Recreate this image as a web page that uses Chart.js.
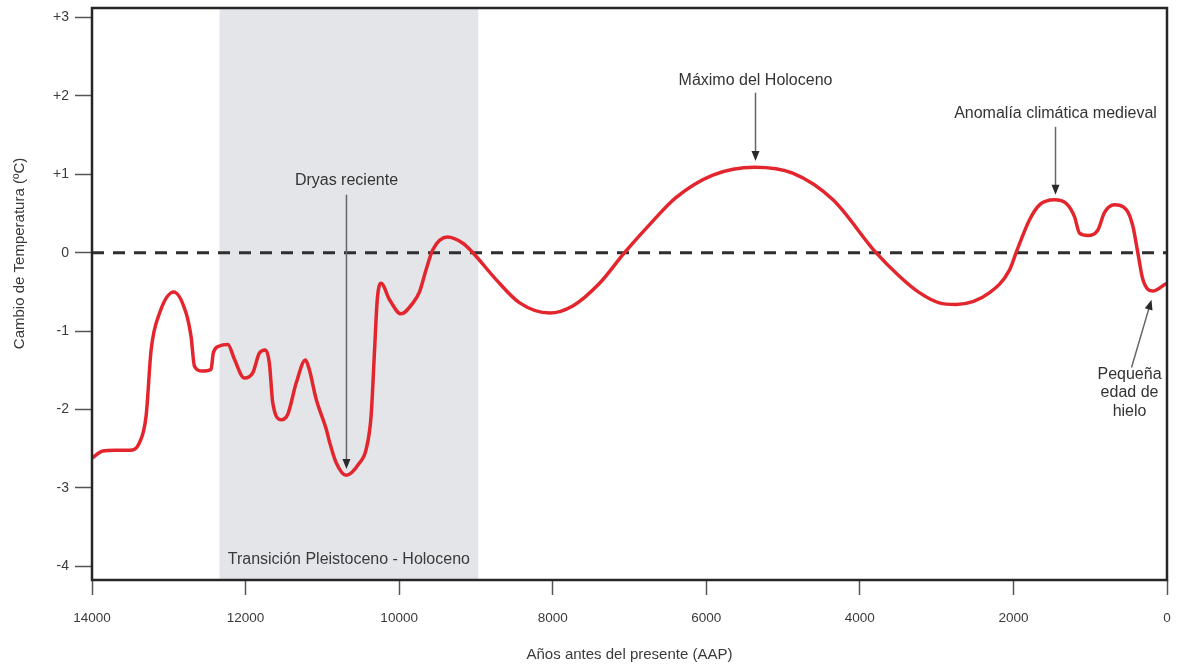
<!DOCTYPE html>
<html>
<head>
<meta charset="utf-8">
<script src="https://cdn.jsdelivr.net/npm/chart.js@4.4.1/dist/chart.umd.min.js"></script>
<style>
  html, body { margin: 0; padding: 0; background: #ffffff; }
  #wrap { width: 1178px; height: 664px; }
</style>
</head>
<body>
<div id="wrap"><canvas id="c" width="1178" height="664"></canvas></div>
<script>
// ---- Data ----
const years = [14000, 13860, 13700, 13510, 13380, 13295, 13230, 13120, 12935, 12775,
  12710, 12665, 12560, 12450, 12420, 12340, 12230, 12145, 12015, 11905,
  11820, 11740, 11690, 11645, 11535, 11450, 11340, 11220, 11170, 11080,
  10950, 10905, 10820, 10690, 10515, 10430, 10365, 10320, 10285, 10235,
  10125, 9975, 9820, 9735, 9650, 9560, 9370, 9170, 9040, 8740,
  8430, 8040, 7740, 7390, 7065, 6700, 6400, 5915, 5370, 4875,
  4350, 3790, 3485, 3225, 2965, 2745, 2310, 2050, 1965, 1790,
  1660, 1465, 1315, 1205, 1140, 1030, 900, 815, 685, 530,
  445, 380, 315, 185, 35, 0];
const temps = [-2.62, -2.53, -2.52, -2.52, -2.42, -2.08, -1.24, -0.77, -0.50, -0.77,
  -1.07, -1.45, -1.51, -1.49, -1.28, -1.19, -1.17, -1.36, -1.60, -1.53,
  -1.28, -1.24, -1.41, -1.92, -2.13, -2.06, -1.66, -1.37, -1.49, -1.87,
  -2.25, -2.42, -2.68, -2.84, -2.68, -2.51, -2.08, -1.24, -0.60, -0.39,
  -0.60, -0.78, -0.64, -0.50, -0.22, 0.04, 0.20, 0.12, 0.00, -0.34,
  -0.64, -0.77, -0.68, -0.39, 0.00, 0.40, 0.70, 0.99, 1.09, 1.015,
  0.675, 0.00, -0.30, -0.51, -0.64, -0.66, -0.51, -0.22, 0.00, 0.42,
  0.61, 0.675, 0.63, 0.46, 0.25, 0.22, 0.29, 0.51, 0.61, 0.55,
  0.34, 0.00, -0.34, -0.49, -0.41, -0.39];

const xTicks = [14000, 12000, 10000, 8000, 6000, 4000, 2000, 0];
const yTicks = [3, 2, 1, 0, -1, -2, -3, -4];
const yTickLabels = ['+3', '+2', '+1', '0', '-1', '-2', '-3', '-4'];
const zeroLineYears = [14000, 0];
const zeroLineValues = [0, 0];

const bandStart = 12340;   // Transición Pleistoceno - Holoceno
const bandEnd = 8970;

const xTitle = 'Años antes del presente (AAP)';
const yTitle = 'Cambio de Temperatura (ºC)';
const bandLabel = 'Transición Pleistoceno - Holoceno';

// annotations in data coordinates (year, value)
const notes = [
  { lines: ['Dryas reciente'], tx: 10686, ty: 0.92, from: [10686, 0.74], to: [10686, -2.76] },
  { lines: ['Máximo del Holoceno'], tx: 5359, ty: 2.20, from: [5359, 2.04], to: [5359, 1.17] },
  { lines: ['Anomalía climática medieval'], tx: 1452, ty: 1.78, from: [1452, 1.605], to: [1452, 0.74] },
  { lines: ['Pequeña', 'edad de', 'hielo'], tx: 488, ty: -1.554, from: [462, -1.465], to: [202, -0.60] }
];

const FONT = '"Liberation Sans", Arial, Helvetica, sans-serif';

const decorPlugin = {
  id: 'decor',
  beforeDatasetsDraw(chart) {
    const { ctx, chartArea: a, scales: { x, y } } = chart;
    const x1 = x.getPixelForValue(bandStart);
    const x2 = x.getPixelForValue(bandEnd);
    ctx.save();
    ctx.fillStyle = '#e3e5e8';
    ctx.fillRect(x1, a.top, x2 - x1, a.bottom - a.top);
    ctx.fillStyle = '#3a3a3a';
    ctx.font = '16px ' + FONT;
    ctx.textAlign = 'center';
    ctx.textBaseline = 'middle';
    ctx.fillText(bandLabel, (x1 + x2) / 2, y.getPixelForValue(-3.91));
    ctx.restore();
  },
  afterDatasetsDraw(chart) {
    const { ctx, chartArea: a, scales: { x, y } } = chart;
    ctx.save();
    // frame
    ctx.strokeStyle = '#262626';
    ctx.lineWidth = 2.5;
    ctx.strokeRect(a.left, a.top, a.right - a.left, a.bottom - a.top);
    // annotations
    ctx.font = '16px ' + FONT;
    ctx.textAlign = 'center';
    ctx.textBaseline = 'middle';
    notes.forEach(n => {
      const tx = x.getPixelForValue(n.tx);
      const ty = y.getPixelForValue(n.ty);
      ctx.fillStyle = '#333333';
      n.lines.forEach((t, i) => ctx.fillText(t, tx, ty + i * 18.5));
      const fx = x.getPixelForValue(n.from[0]), fy = y.getPixelForValue(n.from[1]);
      const ex = x.getPixelForValue(n.to[0]), ey = y.getPixelForValue(n.to[1]);
      const ang = Math.atan2(ey - fy, ex - fx);
      const L = 10, W = 4;
      ctx.strokeStyle = '#666666';
      ctx.lineWidth = 1.5;
      ctx.beginPath();
      ctx.moveTo(fx, fy);
      ctx.lineTo(ex - Math.cos(ang) * L * 0.8, ey - Math.sin(ang) * L * 0.8);
      ctx.stroke();
      ctx.fillStyle = '#2a2a2a';
      ctx.beginPath();
      ctx.moveTo(ex, ey);
      ctx.lineTo(ex - Math.cos(ang) * L - Math.sin(ang) * W, ey - Math.sin(ang) * L + Math.cos(ang) * W);
      ctx.lineTo(ex - Math.cos(ang) * L + Math.sin(ang) * W, ey - Math.sin(ang) * L - Math.cos(ang) * W);
      ctx.closePath();
      ctx.fill();
    });
    // y axis title
    ctx.translate(20, y.getPixelForValue(-0.01));
    ctx.rotate(-Math.PI / 2);
    ctx.font = '15px ' + FONT;
    ctx.fillStyle = '#3a3a3a';
    ctx.fillText(yTitle, 0, 0);
    ctx.restore();
  }
};

new Chart(document.getElementById('c'), {
  type: 'line',
  data: {
    datasets: [
      {
        label: 'Cambio de temperatura',
        data: years.map((yr, i) => ({ x: yr, y: temps[i] })),
        borderColor: '#e3262e',
        borderWidth: 3.5,
        pointRadius: 0,
        cubicInterpolationMode: 'monotone',
        fill: false
      },
      {
        label: 'cero',
        data: zeroLineYears.map((yr, i) => ({ x: yr, y: zeroLineValues[i] })),
        borderColor: '#2e2e2e',
        borderWidth: 3,
        borderDash: [12, 9],
        pointRadius: 0,
        fill: false
      }
    ]
  },
  options: {
    responsive: false,
    animation: false,
    devicePixelRatio: 1,
    layout: { padding: { top: 8, right: 11, left: 0, bottom: 0 } },
    plugins: { legend: { display: false }, tooltip: { enabled: false } },
    scales: {
      x: {
        type: 'linear',
        reverse: true,
        min: 0,
        max: 14000,
        afterBuildTicks: s => { s.ticks = xTicks.map(v => ({ value: v })); },
        afterFit: s => { s.height = 84; s.paddingLeft = 0; s.paddingRight = 0; },
        border: { display: false },
        grid: { drawOnChartArea: false, drawTicks: true, tickLength: 15, tickColor: '#555', tickWidth: 1.5 },
        ticks: {
          callback: v => String(v),
          color: '#3a3a3a',
          font: { family: FONT, size: 13.5 },
          padding: 15,
          maxRotation: 0,
          autoSkip: false
        },
        title: {
          display: true,
          text: xTitle,
          color: '#3a3a3a',
          font: { family: FONT, size: 15 },
          padding: { top: 4, bottom: 0 }
        }
      },
      y: {
        type: 'linear',
        min: -4.175,
        max: 3.121,
        afterBuildTicks: s => { s.ticks = yTicks.map(v => ({ value: v })); },
        afterFit: s => { s.width = 92; s.paddingTop = 0; s.paddingBottom = 0; },
        border: { display: false },
        grid: { drawOnChartArea: false, drawTicks: true, tickLength: 17, tickColor: '#555', tickWidth: 1.5 },
        ticks: {
          callback: v => { const i = yTicks.indexOf(v); return i >= 0 ? yTickLabels[i] : ''; },
          color: '#3a3a3a',
          font: { family: FONT, size: 14 },
          padding: 6
        }
      }
    }
  },
  plugins: [decorPlugin]
});
</script>
</body>
</html>
